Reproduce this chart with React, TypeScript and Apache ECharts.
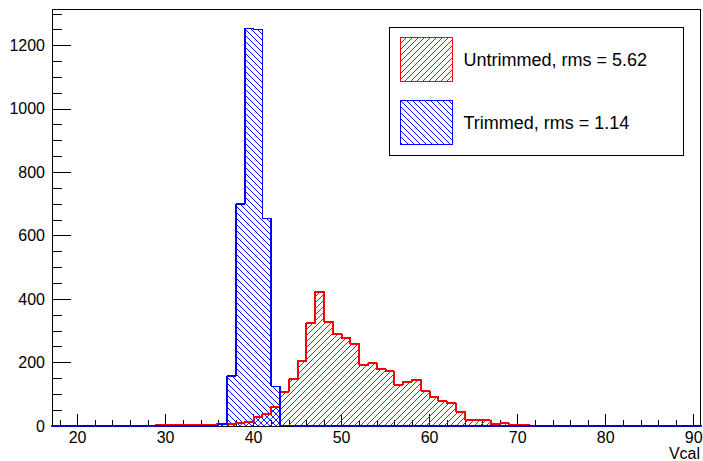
import React, { useEffect, useRef } from "react";
import * as echarts from "echarts";

// Histogram binning (unit-wide bins)
const histLowEdge = 17;
const histHighEdge = 91;

// Untrimmed Vcal distribution, counts starting at bin [28,29)
const untrimmedFirstBin = 28;
const untrimmedCounts = [
  2, 2, 3, 3, 3, 4, 4, 5, 6, 8, 10, 14, 29, 37, 61, 108, 147, 206, 324, 424,
  329, 289, 277, 259, 192, 198, 179, 172, 130, 140, 146, 111, 91, 78, 71, 45,
  20, 19, 17, 5, 8, 2, 2, 1,
];

// Trimmed Vcal distribution, counts starting at bin [36,37)
const trimmedFirstBin = 36;
const trimmedCounts = [6, 158, 700, 1254, 1250, 655, 125, 2];

const seriesNames = ["Untrimmed, rms = 5.62", "Trimmed, rms = 1.14"];
const seriesColors = ["#ff0000", "#0000ff"];

const xMin = 17.1;
const xMax = 90.72;
const yMax = 1315;

const FONT = "'Liberation Sans', Arial, Helvetica, sans-serif";
const HATCH = 6;

// step outline points: [leftEdge, count]
function toSteps(first: number, counts: number[], from: number, to: number): number[][] {
  const pts: number[][] = [[from, 0]];
  for (let e = from; e < to; e++) {
    const i = e - first;
    const v = i >= 0 && i < counts.length ? counts[i] : 0;
    pts.push([e, v]);
  }
  pts.push([to, 0]);
  return pts;
}

// bins: [leftEdge, count]
function toBins(first: number, counts: number[]): number[][] {
  return counts.map((v, i) => [first + i, v]);
}

// diagonal hatch segments inside a pixel rect
function hatchSegments(x0: number, y0: number, x1: number, y1: number, s: number, forward: boolean) {
  const segs: number[][] = [];
  if (forward) {
    for (let c = Math.ceil((x0 + y0) / s) * s; c <= x1 + y1; c += s) {
      const xa = Math.max(x0, c - y1);
      const xb = Math.min(x1, c - y0);
      if (xb - xa > 0.05) segs.push([xa, c - xa, xb, c - xb]);
    }
  } else {
    for (let c = Math.ceil((x0 - y1) / s) * s; c <= x1 - y0; c += s) {
      const xa = Math.max(x0, y0 + c);
      const xb = Math.min(x1, y1 + c);
      if (xb - xa > 0.05) segs.push([xa, xa - c, xb, xb - c]);
    }
  }
  return segs;
}

function legendIcon(forward: boolean) {
  const w = 52;
  const h = 44;
  let d = `path://M0 0 L${w} 0 L${w} ${h} L0 ${h} Z`;
  hatchSegments(0, 0, w, h, HATCH, forward).forEach((g) => {
    d += ` M${g[0].toFixed(2)} ${g[1].toFixed(2)} L${g[2].toFixed(2)} ${g[3].toFixed(2)}`;
  });
  return d;
}

function hatchSeries(name: string, bins: number[][], color: string, forward: boolean, z: number) {
  return {
    type: "custom",
    name,
    data: bins,
    z,
    clip: true,
    itemStyle: { color },
    renderItem: (_params: any, api: any) => {
      const e = api.value(0);
      const v = api.value(1);
      const p0 = api.coord([e, v]);
      const p1 = api.coord([e + 1, 0]);
      const segs = hatchSegments(p0[0], p0[1], p1[0], p1[1], HATCH, forward);
      return {
        type: "group",
        silent: true,
        children: segs.map((g) => ({
          type: "line",
          shape: { x1: g[0], y1: g[1], x2: g[2], y2: g[3] },
          style: { stroke: color, lineWidth: 1, fill: null },
        })),
      };
    },
  };
}

export default function App() {
  const ref = useRef<HTMLDivElement>(null);

  useEffect(() => {
    if (!ref.current) return;
    const chart = echarts.init(ref.current, undefined, { renderer: "svg" });

    const option: any = {
      animation: false,
      backgroundColor: "#ffffff",
      grid: {
        left: 52,
        top: 9,
        right: 3,
        bottom: 35,
        show: true,
        borderColor: "#000",
        borderWidth: 1,
        backgroundColor: "transparent",
        outerBoundsMode: "none",
      },
      legend: {
        orient: "vertical",
        left: 389,
        top: 27,
        padding: [10, 36, 10, 11],
        itemGap: 18,
        itemWidth: 52,
        itemHeight: 44,
        borderColor: "#000",
        borderWidth: 1,
        backgroundColor: "#fff",
        selectedMode: false,
        textStyle: {
          fontSize: 18,
          color: "#000",
          fontFamily: FONT,
          padding: [0, 0, 0, 6],
        },
        data: [
          {
            name: seriesNames[0],
            icon: legendIcon(true),
            itemStyle: { color: "rgba(0,0,0,0)", borderColor: seriesColors[0], borderWidth: 1, opacity: 1 },
          },
          {
            name: seriesNames[1],
            icon: legendIcon(false),
            itemStyle: { color: "rgba(0,0,0,0)", borderColor: seriesColors[1], borderWidth: 1, opacity: 1 },
          },
        ],
      },
      xAxis: {
        type: "value",
        min: xMin,
        max: xMax,
        minInterval: 10,
        maxInterval: 10,
        splitNumber: 7,
        name: "Vcal",
        nameLocation: "end",
        nameGap: 0,
        nameMoveOverlap: false,
        nameTextStyle: {
          align: "right",
          verticalAlign: "top",
          padding: [20, 0, 0, 0],
          fontSize: 16,
          lineHeight: 14,
          color: "#000",
          fontFamily: FONT,
        },
        axisLine: { show: true, lineStyle: { color: "#000", width: 1 } },
        axisTick: { show: true, inside: true, length: 12.5, lineStyle: { color: "#000" } },
        minorTick: { show: true, splitNumber: 5, length: 6, lineStyle: { color: "#000" } },
        splitLine: { show: false },
        axisLabel: {
          showMinLabel: false,
          showMaxLabel: false,
          margin: 4,
          fontSize: 16,
          lineHeight: 14,
          color: "#000",
          fontFamily: FONT,
          formatter: (v: number) => String(v),
        },
      },
      yAxis: {
        type: "value",
        min: 0,
        max: yMax,
        minInterval: 200,
        maxInterval: 200,
        splitNumber: 6,
        axisLine: { show: true, lineStyle: { color: "#000", width: 1 } },
        axisTick: { show: true, inside: true, length: 19, lineStyle: { color: "#000" } },
        minorTick: { show: true, splitNumber: 4, length: 9.5, lineStyle: { color: "#000" } },
        splitLine: { show: false },
        axisLabel: {
          showMaxLabel: false,
          margin: 7,
          fontSize: 16,
          color: "#000",
          fontFamily: FONT,
          formatter: (v: number) => String(v),
        },
      },
      series: [
        hatchSeries(seriesNames[0], toBins(untrimmedFirstBin, untrimmedCounts), seriesColors[0], true, 1),
        hatchSeries(seriesNames[1], toBins(trimmedFirstBin, trimmedCounts), seriesColors[1], false, 2),
        {
          type: "line",
          name: seriesNames[0],
          data: toSteps(
            untrimmedFirstBin,
            untrimmedCounts,
            untrimmedFirstBin,
            untrimmedFirstBin + untrimmedCounts.length
          ),
          step: "end",
          symbol: "none",
          showSymbol: false,
          lineStyle: { color: seriesColors[0], width: 2 },
          itemStyle: { color: seriesColors[0] },
          z: 3,
        },
        {
          type: "line",
          name: seriesNames[1],
          data: toSteps(trimmedFirstBin, trimmedCounts, histLowEdge, histHighEdge),
          step: "end",
          symbol: "none",
          showSymbol: false,
          lineStyle: { color: seriesColors[1], width: 1.5 },
          itemStyle: { color: seriesColors[1] },
          z: 4,
        },
      ],
    };

    chart.setOption(option);
    return () => chart.dispose();
  }, []);

  return (
    <>
      <style>{`#hist-chart svg path { shape-rendering: crispEdges; }`}</style>
      <div
        id="hist-chart"
        ref={ref}
        style={{ position: "fixed", left: 0, top: 0, width: 703, height: 461, background: "#fff" }}
      />
    </>
  );
}
